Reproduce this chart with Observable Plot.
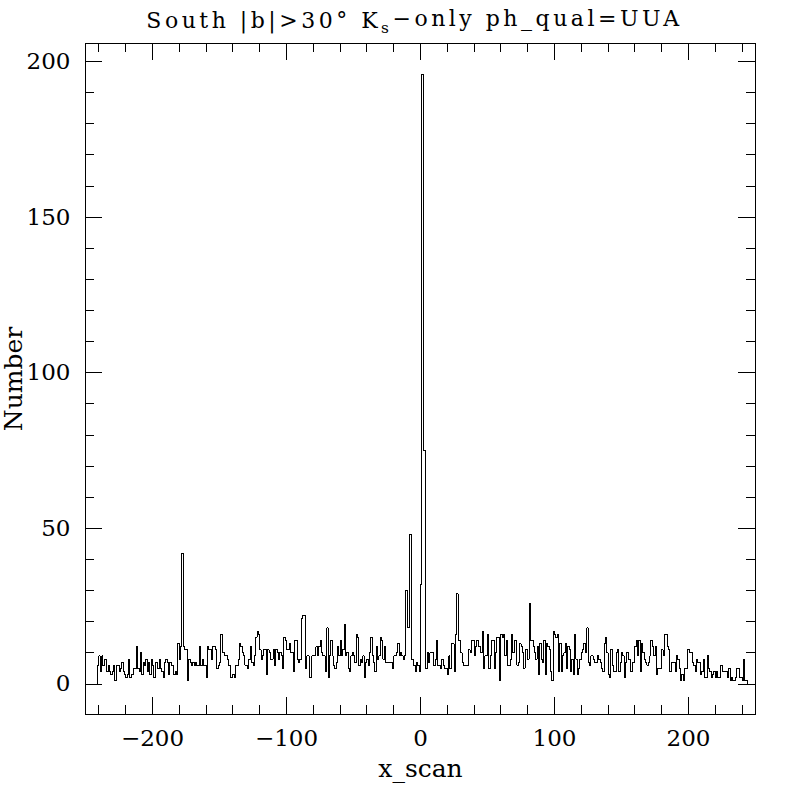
<!DOCTYPE html>
<html><head><meta charset="utf-8">
<script src="https://cdn.jsdelivr.net/npm/d3@7"></script>
<script src="https://cdn.jsdelivr.net/npm/@observablehq/plot@0.6"></script>
<style>body{margin:0;background:#fff}</style>
</head><body><div id="chart"></div>
<script>
// Histogram of x_scan, bins of width 1 starting at -241
const binStart = -241;
const binWidth = 1;
const counts = [
  6,9,4,9,6,8,8,4,6,4,        // -241..-232
  3,4,6,1,6,6,4,5,7,4,        // -231..-222
  3,2,3,8,2,3,3,5,5,12,       // -221..-212
  5,4,10,3,7,6,8,4,7,3,       // -211..-202
  8,6,2,7,7,5,8,5,4,2,        // -201..-192
  7,8,7,3,7,6,6,3,4,3,        // -191..-182
  13,8,12,42,12,11,11,1,8,7,  // -181..-172
  6,7,6,7,6,6,12,6,8,6,       // -171..-162
  6,2,12,11,11,8,12,12,11,5,  // -161..-152
  6,7,16,10,10,9,9,8,6,2,     // -151..-142
  2,3,2,6,6,8,13,12,10,9,     // -141..-132
  6,6,5,8,12,7,6,9,15,17,     // -131..-122
  16,11,8,9,11,11,3,11,10,8,  // -121..-112
  8,11,6,11,10,8,10,9,5,15,   // -111..-102
  14,11,11,13,10,10,4,14,14,8,// -101..-92
  7,8,21,22,22,5,9,9,2,2,     // -91..-82
  9,9,9,12,9,12,14,10,9,9,    // -81..-72
  4,18,2,9,14,9,6,5,7,12,     // -71..-62
  9,14,9,11,19,9,10,5,4,9,    // -61..-52
  10,9,7,16,15,6,8,7,9,2,     // -51..-42
  7,8,6,10,15,9,7,4,12,8,     // -41..-32
  9,15,14,8,12,7,7,7,7,7,     // -31..-22
  5,9,9,10,13,9,10,9,8,9,     // -21..-12
  30,18,18,48,8,8,6,4,7,6,    // -11..-2
  4,32,196,75,75,5,10,7,10,10,// -1..8
  10,6,8,14,6,6,5,8,6,5,      // 9..18
  5,3,9,5,13,13,4,16,29,14,   // 19..28
  14,10,7,6,6,6,6,11,10,14,   // 29..38
  14,9,12,14,12,12,10,17,5,9, // 39..48
  9,16,5,9,14,14,5,10,15,15,  // 49..58
  1,16,15,16,9,14,6,6,8,16,   // 59..68
  10,14,14,6,7,13,12,10,5,11, // 69..78
  11,8,26,14,14,12,10,8,12,3, // 79..88
  13,8,7,14,3,13,12,11,4,1,   // 89..98
  17,16,15,16,4,13,4,9,10,13, // 99..108
  5,12,11,4,8,3,16,8,3,5,     // 109..118
  8,10,11,13,10,18,7,6,9,9,   // 119..128
  8,7,7,9,8,7,5,4,13,15,      // 129..138
  10,3,2,11,6,4,4,10,11,4,    // 139..148
  7,10,9,2,7,10,8,8,4,7,      // 149..158
  7,12,14,9,14,4,13,10,8,7,   // 159..168
  6,7,9,14,12,9,12,3,5,5,     // 169..178
  5,11,9,16,16,12,11,4,7,7,   // 179..188
  7,4,9,8,5,1,3,1,5,5,        // 189..198
  11,11,10,10,7,6,4,8,7,7,    // 199..208
  3,4,8,2,2,9,5,4,2,3,        // 209..218
  4,2,4,2,2,6,4,4,4,4,        // 219..228
  2,5,1,2,1,1,2,5,5,2,        // 229..238
  2,1,8,1,1                   // 239..243
];
const xDomain = [-250, 250];
const yDomain = [-9.8, 205.8];
const xMajorTicks = [-200, -100, 0, 100, 200];
const xMinorTicks = [-240,-220,-200,-180,-160,-140,-120,-100,-80,-60,-40,-20,0,20,40,60,80,100,120,140,160,180,200,220,240];
const yMajorTicks = [0, 50, 100, 150, 200];
const yMinorTicks = [0,10,20,30,40,50,60,70,80,90,100,110,120,130,140,150,160,170,180,190,200];
const titleText = "South |b|>30° Ks−only ph_qual=UUA";
const xLabel = "x_scan";
const yLabel = "Number";

const W = 800, H = 800, mL = 85, mR = 45, mT = 43, mB = 86;
const kx = (W - mL - mR) / (xDomain[1] - xDomain[0]);
const ky = (H - mT - mB) / (yDomain[1] - yDomain[0]);
const majorLen = 17, minorLen = 9;
const fmt = d => d < 0 ? "\u2212" + Math.abs(d) : String(d);

const steps = [{x: xDomain[0], y: 0}]
  .concat(counts.map((c, i) => ({x: binStart + i * binWidth, y: c})))
  .concat([{x: binStart + counts.length * binWidth, y: 0}, {x: xDomain[1], y: 0}]);

const crisp = {shapeRendering: "crispEdges"};
const xTickRules = (ticks, len) => [
  Plot.ruleX(ticks, {x: d => d, y1: yDomain[0], y2: yDomain[0] + len / ky, stroke: "black", strokeWidth: 1, ...crisp}),
  Plot.ruleX(ticks, {x: d => d, y1: yDomain[1], y2: yDomain[1] - len / ky, stroke: "black", strokeWidth: 1, ...crisp})
];
const yTickRules = (ticks, len) => [
  Plot.ruleY(ticks, {y: d => d, x1: xDomain[0], x2: xDomain[0] + len / kx, stroke: "black", strokeWidth: 1, ...crisp}),
  Plot.ruleY(ticks, {y: d => d, x1: xDomain[1], x2: xDomain[1] - len / kx, stroke: "black", strokeWidth: 1, ...crisp})
];

const svg = Plot.plot({
  width: W, height: H,
  marginLeft: mL, marginRight: mR, marginTop: mT, marginBottom: mB,
  style: {fontFamily: "DejaVu Serif", background: "white", color: "black"},
  x: {domain: xDomain, axis: null},
  y: {domain: yDomain, axis: null},
  marks: [
    Plot.frame({stroke: "black", strokeWidth: 1, ...crisp}),
    ...xTickRules(xMinorTicks, minorLen),
    ...xTickRules(xMajorTicks, majorLen),
    ...yTickRules(yMinorTicks, minorLen),
    ...yTickRules(yMajorTicks, majorLen),
    Plot.line(steps, {x: "x", y: "y", curve: "step-after", stroke: "black", strokeWidth: 1, ...crisp}),
    Plot.text(xMajorTicks, {x: d => d, y: yDomain[0], dy: 24, text: fmt, fontSize: 23, fill: "black"}),
    Plot.text(yMajorTicks, {x: xDomain[0], y: d => d, dx: -15, text: fmt, textAnchor: "end", fontSize: 23, fill: "black"}),
    Plot.text([xLabel], {frameAnchor: "bottom", dy: 54, text: d => d, textAnchor: "middle", lineAnchor: "middle", fontSize: 25, fill: "black"}),
    Plot.text([yLabel], {frameAnchor: "left", dx: -72, rotate: -90, text: d => d, textAnchor: "middle", lineAnchor: "middle", fontSize: 25, fill: "black"}),
    Plot.text([titleText], {frameAnchor: "top", dy: -22.5, dx: -6, text: d => d, textAnchor: "middle", lineAnchor: "middle", fontSize: 22, fill: "black"})
  ]
});

// render the subscript s of K_s and widen the title like the reference lettering
d3.select(svg).selectAll("text").filter(function() { return this.textContent === titleText; })
  .each(function() {
    const t = d3.select(this);
    t.text(null).style("letter-spacing", "3.5px");
    t.append("tspan").text("South |b|>30° K");
    t.append("tspan").attr("dy", "0.3em").attr("font-size", "0.7em").text("s");
    t.append("tspan").attr("dy", "-0.3em").text("−only ph_qual=UUA");
  });

document.getElementById("chart").appendChild(svg);
</script>
</body></html>
